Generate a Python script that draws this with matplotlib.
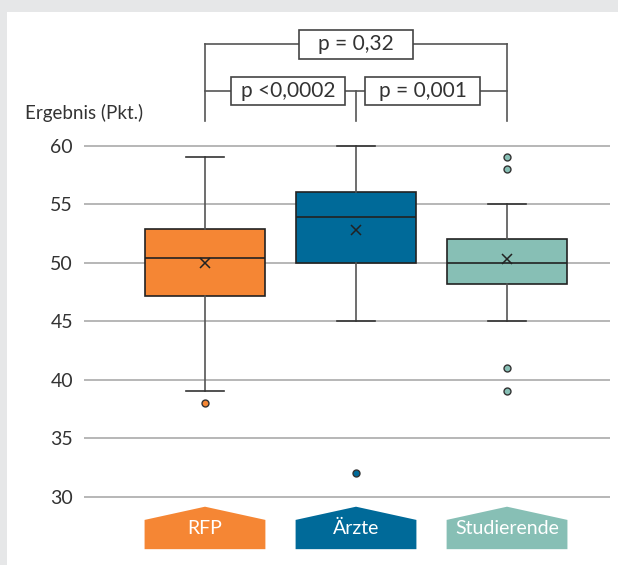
import matplotlib
matplotlib.use('Agg')
import matplotlib.pyplot as plt
from matplotlib.patches import Rectangle, Polygon

# ---- data ----
categories = ['RFP', 'Ärzte', 'Studierende']
whislo = [39, 45, 45]
q1 = [47.1, 50.0, 48.2]
med = [50.4, 53.9, 50.0]
q3 = [52.9, 56.0, 52.0]
whishi = [59, 60, 55]
means = [50.0, 52.8, 50.3]
fliers = [[38], [32], [59, 58, 41, 39]]
colors = ['#f58634', '#006a99', '#87bfb5']
yticks = [30, 35, 40, 45, 50, 55, 60]
p_labels = ['p = 0,32', 'p <0,0002', 'p = 0,001']
ylabel = 'Ergebnis (Pkt.)'

FONT = 'Lato'
plt.rcParams['font.family'] = [FONT, 'DejaVu Sans']

fig = plt.figure(figsize=(6.18, 5.65), dpi=100, facecolor='#e6e7e8')
fig.add_artist(Rectangle((7 / 618, 0), 1, 1 - 12 / 565, transform=fig.transFigure,
                         facecolor='white', edgecolor='none', zorder=0))

ax = fig.add_axes([0.1362, 0.1005, 0.8504, 0.673])
ax.set_xlim(0.2, 3.68)
ax.set_ylim(29, 61.5)
ax.patch.set_alpha(0)
for s in ax.spines.values():
    s.set_visible(False)

positions = [1, 2, 3]
stats = []
for i, c in enumerate(categories):
    stats.append(dict(label=c, whislo=whislo[i], q1=q1[i], med=med[i], q3=q3[i],
                      whishi=whishi[i], mean=means[i], fliers=fliers[i]))

bp = ax.bxp(stats, positions=positions, widths=0.79, capwidths=0.25, patch_artist=True,
            showmeans=True, manage_ticks=False,
            boxprops=dict(edgecolor='#222222', lw=1.2),
            medianprops=dict(color='#222222', lw=1.2),
            whiskerprops=dict(color='#555555', lw=1.2),
            capprops=dict(color='#333333', lw=1.2),
            meanprops=dict(marker='x', markeredgecolor='#222222', markersize=7, markeredgewidth=1.1),
            flierprops=dict(marker='o', markersize=5, markeredgecolor='#333333', markeredgewidth=1))
for patch, fl, col in zip(bp['boxes'], bp['fliers'], colors):
    patch.set_facecolor(col)
    fl.set_markerfacecolor(col)

ax.set_xlim(0.2, 3.68)
ax.set_ylim(29, 61.5)
ax.set_xticks([])
ax.set_yticks(yticks)
ax.yaxis.grid(True, color='#aaaaaa', lw=1.2)
ax.set_axisbelow(True)
ax.tick_params(axis='y', length=0, pad=8, labelsize=14, colors='#333333')

# category labels (house shapes)
for p, c, col in zip(positions, categories, colors):
    poly = Polygon([(p - 0.4, 25.5), (p + 0.4, 25.5), (p + 0.4, 28.0), (p, 29.13), (p - 0.4, 28.0)],
                   closed=True, facecolor=col, edgecolor='none', clip_on=False)
    ax.add_patch(poly)
    ax.text(p, 27.25, c, color='white', ha='center', va='center', fontsize=14, clip_on=False)

# significance brackets
lc = '#555555'
top_y, low_y, bot_y = 68.65, 64.66, 62.1
box_h = 2.45
kw = dict(color=lc, lw=1.2, clip_on=False)
ax.plot([positions[0], positions[2]], [top_y, top_y], **kw)
ax.plot([positions[0], positions[2]], [low_y, low_y], **kw)
ax.plot([positions[0], positions[0]], [top_y, bot_y], **kw)
ax.plot([positions[2], positions[2]], [top_y, bot_y], **kw)
ax.plot([positions[1], positions[1]], [low_y, bot_y], **kw)

label_centers = [(positions[1], top_y), (1.55, low_y), (2.44, low_y)]
label_widths = [0.75, 0.76, 0.766]
for (cx, cy), w, t in zip(label_centers, label_widths, p_labels):
    ax.add_patch(Rectangle((cx - w / 2, cy - box_h / 2), w, box_h, facecolor='white',
                           edgecolor='#444444', lw=1.2, clip_on=False, zorder=5))
    ax.text(cx, cy, t, ha='center', va='center', fontsize=15, color='#333333',
            clip_on=False, zorder=6)

fig.text(25 / 618, 1 - 113 / 565, ylabel, ha='left', va='center', fontsize=13.5, color='#333333')

fig.savefig('out.png', dpi=100, facecolor=fig.get_facecolor())
